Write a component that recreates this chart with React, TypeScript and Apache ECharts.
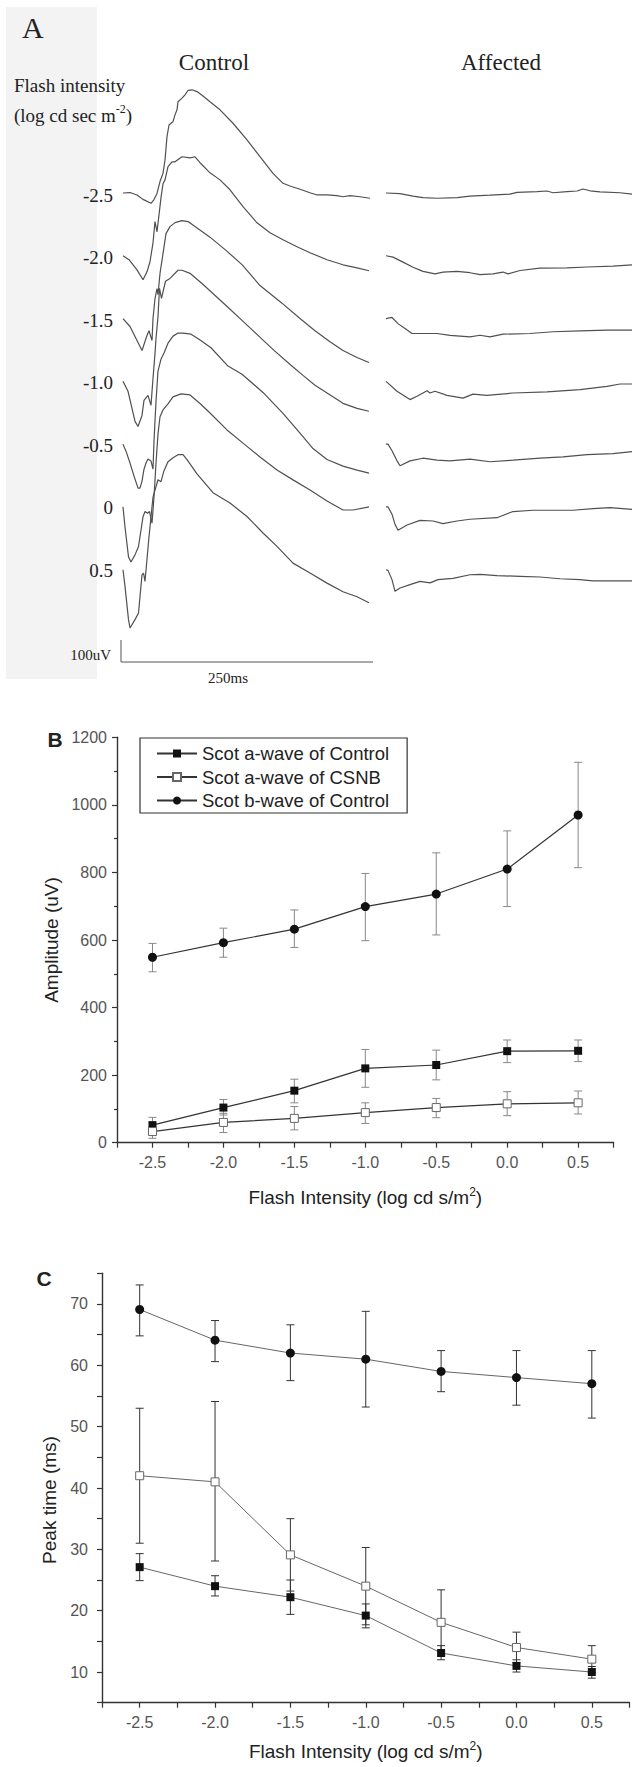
import React, { useEffect, useRef } from 'react';
import * as echarts from 'echarts';

// ---------- Panel A: ERG traces (t in ms, amplitude in uV, relative to each trace's start) ----------
const intensityLabels = ['-2.5', '-2.0', '-1.5', '-1.0', '-0.5', '0', '0.5'];

const ctrlM25 = [[0,0],[7,2],[14,-9],[20,-29],[28,-47],[31,-30],[34,-2],[37,52],[40,89],[42,150],[44,256],[46,309],[48,317],[50,324],[52,355],[54,378],[55,415],[59,431],[62,446],[65,466],[69,469],[74,461],[80,441],[87,415],[97,378],[110,317],[124,241],[137,165],[150,89],[160,44],[167,32],[177,17],[187,1],[194,-9],[204,-9],[214,-12],[220,-17],[227,-12],[237,-17],[247,-24]];
const ctrlM20 = [[0,0],[6,-18],[14,-64],[20,-109],[24,-73],[27,-27],[30,59],[32,155],[34,109],[36,186],[38,264],[40,327],[42,345],[45,405],[49,427],[52,427],[59,450],[67,445],[72,450],[77,423],[87,377],[97,345],[107,300],[120,223],[134,150],[147,105],[160,73],[174,41],[187,14],[204,-18],[220,-41],[234,-55],[246,-68]];
const ctrlM15 = [[0,0],[7,-36],[14,-100],[19,-145],[24,-77],[26,-55],[29,-100],[30,0],[32,91],[34,136],[35,109],[37,205],[40,295],[43,386],[47,418],[52,436],[59,445],[65,441],[72,418],[87,370],[103,310],[119,245],[137,150],[159,70],[177,0],[192,-55],[207,-105],[220,-145],[234,-177],[246,-200]];
const ctrlM10 = [[0,0],[5,-45],[9,-123],[12,-182],[15,-205],[19,-155],[21,-86],[25,-64],[28,-109],[30,14],[32,127],[33,195],[35,295],[36.5,423],[38.5,377],[42.5,455],[47,468],[55,505],[59,505],[67,491],[79,445],[91,395],[103,345],[119,277],[135,209],[151,141],[168,73],[180,27],[192,-18],[206,-59],[220,-100],[234,-123],[246,-136]];
const ctrlM05 = [[0,0],[3,-32],[7,-86],[11,-145],[15,-200],[17,-200],[19,-168],[21,-114],[23,-86],[25,-68],[28,-77],[30,-114],[31,14],[33,195],[35,332],[38,386],[41,414],[45,459],[50,491],[55,505],[60,505],[68,500],[76,477],[88,438],[105,355],[119,318],[140,235],[160,140],[177,50],[190,-20],[204,-70],[220,-100],[234,-118],[246,-132]];
const ctrl00 = [[0,0],[2,-91],[5.5,-227],[8,-250],[12,-218],[15.5,-180],[20,-45],[22,-21],[24.5,-29],[26.5,-21],[29,-74],[31,45],[33,200],[35,332],[37,410],[40,441],[45,468],[50,500],[58,514],[67,509],[77,470],[87,427],[104,350],[120,290],[137,227],[154,168],[170,123],[187,77],[204,27],[220,-14],[230,-14],[246,0]];
const ctrl05 = [[0,0],[2,-76],[5.5,-227],[7,-265],[12,-227],[15.5,-197],[19,-23],[20.5,-15],[22,-53],[26,150],[30,330],[35,409],[38,400],[41,450],[45,491],[50,509],[55,523],[60,523],[64,500],[74,436],[90,350],[107,303],[124,242],[140,167],[154,106],[170,30],[187,-15],[204,-61],[220,-100],[234,-123],[246,-150]];

const affM25 = [[0,0],[14,-3],[27,-14],[37,-21],[51,-24],[71,-21],[84,-14],[104,-10],[124,-5],[131,3],[151,6],[161,9],[167,1],[181,6],[191,9],[197,18],[204,10],[214,5],[234,1],[246,-5]];
const affM20 = [[0,0],[7,-6],[17,-29],[27,-52],[37,-71],[49,-82],[57,-74],[71,-71],[84,-77],[94,-86],[107,-82],[117,-74],[122,-82],[134,-67],[154,-56],[181,-55],[201,-51],[227,-47],[246,-41]];
const affM15 = [[0,0],[6,5],[12,-23],[19,-45],[26,-68],[37,-68],[51,-68],[64,-76],[84,-83],[94,-76],[104,-83],[117,-71],[144,-68],[167,-60],[194,-56],[221,-53],[246,-53]];
const affM10 = [[0,0],[11,-45],[24,-83],[31,-68],[37,-53],[41,-43],[44,-53],[49,-45],[61,-64],[77,-76],[87,-58],[101,-64],[127,-53],[161,-48],[194,-38],[221,-23],[234,-12],[246,-12]];
const affM05 = [[0,0],[2,0],[6,-30],[11,-76],[14,-98],[24,-76],[37,-64],[51,-73],[64,-76],[84,-68],[104,-80],[127,-73],[154,-64],[177,-58],[201,-48],[227,-43],[246,-34]];
const aff00 = [[0,0],[2,0],[6,-33],[9,-79],[12,-106],[21,-82],[34,-61],[47,-64],[57,-76],[71,-64],[84,-56],[111,-49],[127,-21],[147,-15],[167,-15],[187,-15],[207,-8],[224,-3],[246,-11]];
const aff05 = [[0,0],[2,-3],[6,-45],[9,-98],[14,-83],[24,-68],[34,-53],[44,-60],[52,-45],[67,-39],[84,-23],[94,-21],[111,-27],[134,-30],[154,-33],[174,-41],[194,-45],[207,-51],[227,-51],[246,-51]];

const controlTraces = [ctrlM25, ctrlM20, ctrlM15, ctrlM10, ctrlM05, ctrl00, ctrl05];
const affectedTraces = [affM25, affM20, affM15, affM10, affM05, aff00, aff05];

// ---------- Panels B and C ----------
const intensities = [-2.5, -2.0, -1.5, -1.0, -0.5, 0.0, 0.5];

const ampAControl = [52, 104, 154, 220, 230, 271, 272];
const ampAControlHi = [75, 128, 188, 276, 274, 304, 304];
const ampAControlLo = [28, 82, 118, 164, 186, 237, 240];
const ampACsnb = [33, 60, 72, 89, 104, 115, 118];
const ampACsnbHi = [47, 87, 107, 118, 131, 151, 153];
const ampACsnbLo = [13, 30, 38, 57, 74, 80, 85];
const ampBControl = [549, 592, 632, 699, 736, 810, 970];
const ampBControlHi = [590, 635, 689, 797, 858, 923, 1126];
const ampBControlLo = [506, 549, 578, 598, 615, 699, 814];

const ptBControl = [69.1, 64.1, 62.0, 61.0, 59.0, 58.0, 57.0];
const ptBControlHi = [73.1, 67.3, 66.6, 68.8, 62.4, 62.4, 62.4];
const ptBControlLo = [64.8, 60.6, 57.5, 53.2, 55.7, 53.5, 51.4];
const ptACsnb = [42.0, 41.0, 29.1, 24.0, 18.1, 14.0, 12.1];
const ptACsnbHi = [53.0, 54.1, 35.0, 30.3, 23.4, 16.5, 14.3];
const ptACsnbLo = [31.0, 28.1, 23.2, 17.7, 12.8, 11.5, 9.9];
const ptAControl = [27.1, 24.0, 22.2, 19.2, 13.1, 11.0, 10.0];
const ptAControlHi = [29.3, 25.7, 25.0, 21.1, 14.3, 12.0, 10.9];
const ptAControlLo = [24.9, 22.4, 19.4, 17.2, 12.0, 10.0, 9.0];

const NAME_A_CTRL = 'Scot a-wave of Control';
const NAME_A_CSNB = 'Scot a-wave of CSNB';
const NAME_B_CTRL = 'Scot b-wave of Control';

const SERIF = '"Liberation Serif", "DejaVu Serif", serif';
const SANS = '"Liberation Sans", Arial, sans-serif';

const STEP_UV = 285.4; // vertical offset between stacked traces
const TRACE_COLOR = '#505050';

function traceSeries(traces: number[][][], axis: number) {
  return traces.map((tr, i) => ({
    type: 'line',
    xAxisIndex: axis,
    yAxisIndex: axis,
    data: tr.map(([t, v]) => [t, v - i * STEP_UV]),
    symbol: 'none',
    silent: true,
    clip: false,
    lineStyle: { color: TRACE_COLOR, width: 1.2 },
    z: 2,
  }));
}

function errSeries(axis: number, lo: number[], hi: number[], color: string) {
  return {
    type: 'custom',
    xAxisIndex: axis,
    yAxisIndex: axis,
    silent: true,
    z: 1,
    data: intensities.map((x, i) => [x, lo[i], hi[i]]),
    encode: { x: 0, y: [1, 2] },
    renderItem: (params: any, api: any) => {
      const x = api.value(0);
      const a = api.coord([x, api.value(1)]);
      const b = api.coord([x, api.value(2)]);
      const w = 4;
      const style = { stroke: color, lineWidth: 1 };
      return {
        type: 'group',
        children: [
          { type: 'line', shape: { x1: a[0], y1: a[1], x2: b[0], y2: b[1] }, style },
          { type: 'line', shape: { x1: a[0] - w, y1: a[1], x2: a[0] + w, y2: a[1] }, style },
          { type: 'line', shape: { x1: b[0] - w, y1: b[1], x2: b[0] + w, y2: b[1] }, style },
        ],
      };
    },
  };
}

function pointSeries(axis: number, name: string, vals: number[], kind: string, lineColor: string, lineWidth: number) {
  const itemStyle =
    kind === 'open'
      ? { color: '#ffffff', borderColor: '#666', borderWidth: 1 }
      : { color: '#111', borderColor: '#111', borderWidth: 0 };
  return {
    type: 'line',
    name,
    xAxisIndex: axis,
    yAxisIndex: axis,
    data: intensities.map((x, i) => [x, vals[i]]),
    symbol: kind === 'circle' ? 'circle' : 'rect',
    symbolSize: kind === 'circle' ? 9 : 8,
    showSymbol: true,
    itemStyle,
    lineStyle: { color: lineColor, width: lineWidth },
    z: 3,
    silent: true,
  };
}

const xFormatter = (v: number) => (Math.abs(v * 2 - Math.round(v * 2)) < 1e-6 ? v.toFixed(1) : '');

function xAxisFor(grid: number, nameGap: number) {
  return {
    gridIndex: grid,
    type: 'value',
    min: -2.75,
    max: 0.75,
    interval: 0.25,
    axisLine: { show: true, onZero: false, lineStyle: { color: '#333', width: 1.4 } },
    axisTick: { show: true, length: 5, lineStyle: { color: '#333', width: 1.2 } },
    axisLabel: { formatter: xFormatter, margin: 12, fontSize: 16, color: '#555', fontFamily: SANS },
    splitLine: { show: false },
    name: 'Flash Intensity (log cd s/m{sup|2})',
    nameLocation: 'middle',
    nameGap,
    nameTextStyle: {
      fontSize: 19,
      color: '#222',
      fontFamily: SANS,
      rich: { sup: { fontSize: 12, fontFamily: SANS, color: '#222', padding: [0, 0, 12, 0] } },
    },
  };
}

const option: any = {
  animation: false,
  backgroundColor: '#ffffff',
  grid: [
    { left: 123, top: 0, width: 250, height: 700, outerBoundsMode: 'none' },
    { left: 386, top: 0, width: 250, height: 700, outerBoundsMode: 'none' },
    { left: 117, top: 737.3, width: 496.6, height: 405.4, outerBoundsMode: 'none' },
    { left: 102, top: 1273.3, width: 527.5, height: 429.4, outerBoundsMode: 'none' },
  ],
  xAxis: [
    { gridIndex: 0, type: 'value', min: 0, max: 250, show: false },
    { gridIndex: 1, type: 'value', min: 0, max: 250, show: false },
    xAxisFor(2, 43),
    xAxisFor(3, 37),
  ],
  yAxis: [
    { gridIndex: 0, type: 'value', min: -2304.6, max: 877.2, show: false },
    { gridIndex: 1, type: 'value', min: -2304.6, max: 877.2, show: false },
    {
      gridIndex: 2,
      type: 'value',
      min: 0,
      max: 1200,
      interval: 200,
      axisLine: { show: true, onZero: false, lineStyle: { color: '#333', width: 1.4 } },
      axisTick: { show: true, length: 5, lineStyle: { color: '#333', width: 1.2 } },
      minorTick: { show: true, splitNumber: 2, length: 3, lineStyle: { color: '#333', width: 1.2 } },
      axisLabel: { margin: 10, fontSize: 16, color: '#555', fontFamily: SANS, formatter: (v: number) => String(Math.round(v)) },
      splitLine: { show: false },
      minorSplitLine: { show: false },
      name: 'Amplitude (uV)',
      nameLocation: 'middle',
      nameGap: 56,
      nameTextStyle: { fontSize: 19, color: '#222', fontFamily: SANS },
    },
    {
      gridIndex: 3,
      type: 'value',
      min: 5,
      max: 75,
      interval: 5,
      axisLine: { show: true, onZero: false, lineStyle: { color: '#333', width: 1.4 } },
      axisTick: { show: true, length: 5, lineStyle: { color: '#333', width: 1.2 } },
      axisLabel: {
        margin: 14,
        fontSize: 16,
        color: '#555',
        fontFamily: SANS,
        formatter: (v: number) => (Math.round(v) % 10 === 0 ? String(Math.round(v)) : ''),
      },
      splitLine: { show: false },
      name: 'Peak time (ms)',
      nameLocation: 'middle',
      nameGap: 41,
      nameTextStyle: { fontSize: 19, color: '#222', fontFamily: SANS, padding: [0, 24, 0, 0] },
    },
  ],
  legend: {
    data: [NAME_A_CTRL, NAME_A_CSNB, NAME_B_CTRL],
    orient: 'vertical',
    left: 140,
    top: 738,
    padding: [6, 18, 3, 16],
    itemWidth: 40,
    itemHeight: 10,
    itemGap: 4.5,
    borderColor: '#333',
    borderWidth: 1.2,
    selectedMode: false,
    textStyle: { fontSize: 18.5, color: '#222', fontFamily: SANS, lineHeight: 18 },
  },
  graphic: [
    { type: 'rect', z: 0, shape: { x: 6, y: 7, width: 91, height: 672 }, style: { fill: '#f3f3f3' } },
    { type: 'text', z: 10, x: 22, y: 27, style: { text: 'A', fontSize: 30, fontFamily: SERIF, fill: '#222', align: 'left', verticalAlign: 'middle' } },
    { type: 'text', z: 10, x: 214, y: 62.5, style: { text: 'Control', fontSize: 23, fontFamily: SERIF, fill: '#222', align: 'center', verticalAlign: 'middle' } },
    { type: 'text', z: 10, x: 501, y: 62.5, style: { text: 'Affected', fontSize: 23, fontFamily: SERIF, fill: '#222', align: 'center', verticalAlign: 'middle' } },
    { type: 'text', z: 10, x: 14, y: 85, style: { text: 'Flash intensity', fontSize: 19, fontFamily: SERIF, fill: '#222', align: 'left', verticalAlign: 'middle' } },
    {
      type: 'text', z: 10, x: 14, y: 115,
      style: {
        text: '(log cd sec m{sup|-2})', fontSize: 19, fontFamily: SERIF, fill: '#222', align: 'left', verticalAlign: 'middle',
        rich: { sup: { fontSize: 12, fontFamily: SERIF, fill: '#222', padding: [0, 0, 12, 0] } },
      },
    },
    ...intensityLabels.map((t, i) => ({
      type: 'text', z: 10, x: 113, y: 195 + 62.5 * i,
      style: { text: t, fontSize: 19, fontFamily: SERIF, fill: '#222', align: 'right', verticalAlign: 'middle' },
    })),
    { type: 'text', z: 10, x: 111, y: 655, style: { text: '100uV', fontSize: 15, fontFamily: SERIF, fill: '#222', align: 'right', verticalAlign: 'middle' } },
    { type: 'polyline', z: 10, shape: { points: [[121, 640], [121, 662], [373, 662]] }, style: { stroke: '#555', lineWidth: 1, fill: 'none' } },
    { type: 'text', z: 10, x: 228, y: 678, style: { text: '250ms', fontSize: 15, fontFamily: SERIF, fill: '#222', align: 'center', verticalAlign: 'middle' } },
    { type: 'text', z: 10, x: 55, y: 739, style: { text: 'B', fontSize: 21, fontWeight: 'bold', fontFamily: SANS, fill: '#222', align: 'center', verticalAlign: 'middle' } },
    { type: 'text', z: 10, x: 44, y: 1278, style: { text: 'C', fontSize: 21, fontWeight: 'bold', fontFamily: SANS, fill: '#222', align: 'center', verticalAlign: 'middle' } },
  ],
  series: [
    ...traceSeries(controlTraces, 0),
    ...traceSeries(affectedTraces, 1),
    errSeries(2, ampBControlLo, ampBControlHi, '#888'),
    errSeries(2, ampAControlLo, ampAControlHi, '#888'),
    errSeries(2, ampACsnbLo, ampACsnbHi, '#888'),
    pointSeries(2, NAME_A_CTRL, ampAControl, 'filled', '#333', 1.2),
    pointSeries(2, NAME_A_CSNB, ampACsnb, 'open', '#333', 1.2),
    pointSeries(2, NAME_B_CTRL, ampBControl, 'circle', '#333', 1.2),
    errSeries(3, ptBControlLo, ptBControlHi, '#333'),
    errSeries(3, ptACsnbLo, ptACsnbHi, '#333'),
    errSeries(3, ptAControlLo, ptAControlHi, '#333'),
    pointSeries(3, NAME_B_CTRL + ' ', ptBControl, 'circle', '#666', 1),
    pointSeries(3, NAME_A_CSNB + ' ', ptACsnb, 'open', '#666', 1),
    pointSeries(3, NAME_A_CTRL + ' ', ptAControl, 'filled', '#666', 1),
  ],
};

export default function App() {
  const ref = useRef<HTMLDivElement>(null);
  useEffect(() => {
    if (!ref.current) return;
    const chart = echarts.init(ref.current, null, { renderer: 'svg' });
    chart.setOption(option);
    return () => chart.dispose();
  }, []);
  return (
    <div
      ref={ref}
      style={{ position: 'absolute', left: 0, top: 0, width: 633, height: 1767, background: '#ffffff' }}
    />
  );
}
